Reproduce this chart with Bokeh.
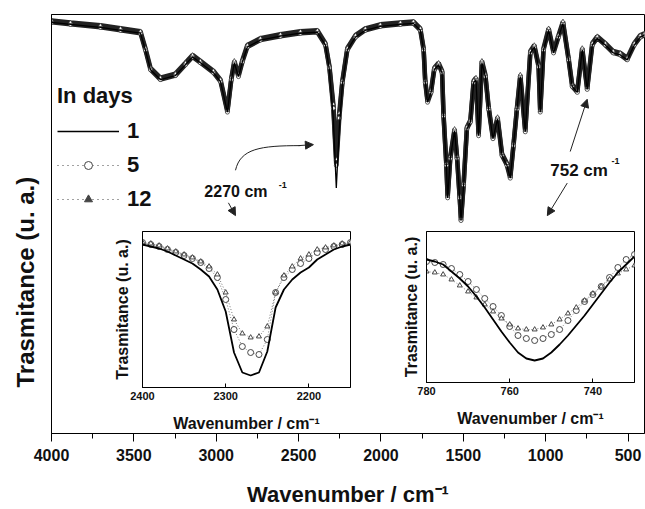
import math
from bokeh.plotting import figure
from bokeh.models import (Range1d, FixedTicker, Legend, LegendItem, Label, Arrow,
                          NormalHead, GridBox, ColumnDataSource, Title)
from bokeh.embed import file_html
from bokeh.resources import INLINE

FONT = "Liberation Sans"

# ---------------- data ----------------
main_wn = [4000,3885,3703,3581,3460,3430,3399,3339,3248,3187,3144,3096,3017,2974,2932,
           2908,2890,2865,2841,2811,2732,2610,2489,2386,2337,2313,2289,2271,2253,2234,
           2204,2155,2095,2004,1882,1803,1761,1741,1731,1717,1696,1676,1650,1629,1620,
           1603,1595,1579,1553,1538,1522,1514,1498,1478,1457,1437,1423,1407,1387,1366,
           1346,1320,1292,1265,1235,1215,1195,1174,1154,1124,1093,1069,1043,1033,1013,
           982,952,922,895,861,839,808,778,748,717,687,638,590,547,505,462,426,400]
main_day1 = [417,415,412,409,406,389,369,359,363,374,382,376,366,357,326,
             359,376,362,377,392,399,403,406,407,394,369,319,249,309,354,
             389,402,409,413,415,416,409,389,356,336,346,369,374,366,322,
             272,239,279,307,279,239,216,252,309,316,356,359,302,376,362,
             329,299,319,282,272,259,292,329,362,306,386,392,372,326,389,
             409,386,402,416,379,352,346,389,349,394,401,394,386,384,379,394,402,404]
main_day5 = [417,415,412,409,406,389,369,359,363,374,382,376,366,357,326,
             359,376,362,377,392,399,403,406,407,394,371,330,272,320,356,
             389,402,409,413,415,416,409,389,356,336,346,369,374,366,322,
             272,239,279,307,279,239,216,252,309,316,356,359,302,376,362,
             329,299,319,282,272,259,292,329,362,306,386,392,372,326,389,
             409,386,402,416,379,352,346,389,349,394,401,394,386,384,379,394,402,404]
main_day12 = [419,417,414,411,408,391,371,361,365,376,384,378,368,359,328,
              361,378,364,379,394,401,405,408,409,396,373,334,278,325,358,
              391,404,411,415,417,418,411,391,358,338,348,371,376,368,324,
              274,241,281,309,281,241,218,254,311,318,358,361,304,378,364,
              331,301,321,284,274,261,294,331,364,308,388,394,374,328,391,
              411,388,404,418,381,354,348,391,351,396,403,396,388,386,381,396,404,406]
main_ticks = [4000,3500,3000,2500,2000,1500,1000,500]
main_minor = [3750,3250,2750,2250,1750,1250,750]

in1_wn = [2400,2390,2380,2370,2360,2350,2340,2330,2320,2310,2300,2290,2280,2270,2260,
          2250,2240,2230,2220,2210,2200,2190,2180,2170,2160,2150]
in1_day1 = [143,141,139,136,132,128,124,118,111,98,76,35,15,12,15,36,80,98,108,115,
            120,128,133,138,141,143]
in1_day5 = [145,143,141,138,135,132,129,125,119,110,88,58,41,35,33,48,95,110,118,124,
            129,135,138,141,143,145]
in1_day12 = [145,144,142,139,136,133,130,126,121,113,95,68,54,50,51,61,95,112,121,129,
             133,138,140,142,144,145]
in1_ticks = [2400,2300,2200]

in2_wn = [780,778,776,774,772,770,768,766,764,762,760,758,756,754,752,750,748,746,744,
          742,740,738,736,734,732,730]
in2_day1 = [123,121,118,111,104,96,86,75,63,51,40,30,24,22,24,30,38,47,57,67,78,89,100,
            110,118,126]
in2_day5 = [121,120,118,114,108,101,93,84,76,67,56,47,44,42,44,48,53,62,72,81,88,96,105,
            115,123,128]
in2_day12 = [111,110,108,103,97,91,85,78,71,64,58,54,53,53,55,58,63,69,75,82,89,96,103,
             109,113,117]
in2_ticks = [780,760,740]

legend_title = "In days"
legend_labels = ["1", "5", "12"]

# annotation anchors (data units of main plot)
curve_arrow = dict(x0=2883, y0=267, cx0=2853, cy0=289, cx1=2732, cy1=292, x1=2489, y1=292)
arrows = [(2501, 292, 2410, 293), (2926, 234, 2883, 221), (851, 286, 748, 339), (869, 254, 990, 221)]

# ---------------- main figure ----------------
W, H = 645, 509
p = figure(width=W, height=H, output_backend="svg", toolbar_location=None,
           x_range=Range1d(4000, 400), y_range=Range1d(0, 425),
           min_border_left=51, min_border_right=1, min_border_top=14, min_border_bottom=70)
p.frame_align = False
p.grid.visible = False
p.outline_line_color = "black"
p.outline_line_width = 1
p.background_fill_color = "white"

p.xaxis.ticker = FixedTicker(ticks=main_ticks, minor_ticks=main_minor)
p.xaxis.major_tick_in = 0
p.xaxis.major_tick_out = 8
p.xaxis.minor_tick_in = 0
p.xaxis.minor_tick_out = 5
p.xaxis.major_label_text_font = FONT
p.xaxis.major_label_text_font_style = "bold"
p.xaxis.major_label_text_font_size = "16px"
p.xaxis.major_label_text_color = "#111111"
p.xaxis.major_label_standoff = 7
p.xaxis.axis_label = "Wavenumber / cm\u207b\u00b9"
p.xaxis.axis_label_text_font = FONT
p.xaxis.axis_label_text_font_style = "bold"
p.xaxis.axis_label_text_font_size = "22px"
p.xaxis.axis_label_text_color = "#111111"
p.xaxis.axis_label_standoff = 18

p.yaxis.ticker = FixedTicker(ticks=[])
p.yaxis.major_tick_out = 0
p.yaxis.minor_tick_out = 0

# y title as a side title, shifted down like the reference
ytitle = Title(text="Trasmitance (u. a.)", align="left", offset=46, vertical_align="top",
               standoff=22, text_font=FONT, text_font_style="bold", text_font_size="24px",
               text_color="#111111")
p.add_layout(ytitle, "left")

# spectra
p.line(main_wn, main_day5, line_color="#222222", line_width=4.5)
p.line(main_wn, main_day12, line_color="#222222", line_width=4.5)
p.scatter(main_wn, main_day5, marker="circle", size=4, line_color="#333333", fill_color="white", line_width=0.8)
p.scatter(main_wn, main_day12, marker="triangle", size=4, line_color="#333333", fill_color="white", line_width=0.8)
p.line(main_wn, main_day1, line_color="black", line_width=1.3)

# legend renderers (kept outside the visible ranges; only their glyphs show in the legend)
off = ColumnDataSource(data=dict(x=[-9000], y=[-9000]))
r1 = p.line("x", "y", source=off, line_color="black", line_width=1.3)
r5l = p.line("x", "y", source=off, line_color="#444444", line_width=1.2, line_dash="1 4")
r5m = p.scatter("x", "y", source=off, marker="circle", size=6, line_color="#444444", fill_color="white")
r12l = p.line("x", "y", source=off, line_color="#444444", line_width=1.2, line_dash="1 4")
r12m = p.scatter("x", "y", source=off, marker="triangle", size=6, line_color="#444444", fill_color="#444444")
legend = Legend(items=[LegendItem(label=legend_labels[0], renderers=[r1]),
                       LegendItem(label=legend_labels[1], renderers=[r5l, r5m]),
                       LegendItem(label=legend_labels[2], renderers=[r12l, r12m])],
                title=legend_title, location=(6, 221))
legend.title_text_font = FONT
legend.title_text_font_style = "bold"
legend.title_text_font_size = "22px"
legend.title_text_color = "#111111"
legend.title_standoff = 9
legend.label_text_font = FONT
legend.label_text_font_style = "bold"
legend.label_text_font_size = "22px"
legend.label_text_color = "#111111"
legend.glyph_width = 62
legend.glyph_height = 20
legend.label_standoff = 8
legend.spacing = 8
legend.padding = 0
legend.margin = 0
legend.border_line_alpha = 0
legend.background_fill_alpha = 0
p.add_layout(legend)

# peak annotations
def add_lab(x, y, t, size):
    p.add_layout(Label(x=x, y=y, text=t, text_font=FONT, text_font_style="bold",
                       text_font_size=size, text_align="left", text_baseline="middle",
                       text_color="#111111"))

add_lab(3072, 245, "2270 cm", "16px")
add_lab(2620, 252, "-1", "9px")
add_lab(972, 267, "752 cm", "17px")
add_lab(600, 276, "-1", "9px")

ca = curve_arrow
p.bezier(x0=[ca["x0"]], y0=[ca["y0"]], x1=[ca["x1"]], y1=[ca["y1"]],
         cx0=[ca["cx0"]], cy0=[ca["cy0"]], cx1=[ca["cx1"]], cy1=[ca["cy1"]],
         line_color="#222222", line_width=1)
for (xs, ys, xe, ye) in arrows:
    p.add_layout(Arrow(x_start=xs, y_start=ys, x_end=xe, y_end=ye, line_color="#222222",
                       line_width=1, end=NormalHead(size=8, fill_color="#222222",
                                                    line_color="#222222")))

# ---------------- insets ----------------
def make_inset(wn, d1, d5, d12, ticks, xr, yr, fw, fh, left_border, ylab_size, ylab_standoff):
    f = figure(width=left_border + fw + 2, height=2 + fh + 52, output_backend="svg",
               toolbar_location=None, x_range=Range1d(*xr), y_range=Range1d(*yr),
               min_border_left=left_border, min_border_right=2, min_border_top=2,
               min_border_bottom=52)
    f.frame_align = False
    f.grid.visible = False
    f.outline_line_color = "black"
    f.background_fill_alpha = 0
    f.border_fill_alpha = 0
    f.xaxis.ticker = FixedTicker(ticks=ticks)
    f.xaxis.major_tick_in = 4
    f.xaxis.major_tick_out = 0
    f.xaxis.minor_tick_out = 0
    f.xaxis.major_label_text_font = FONT
    f.xaxis.major_label_text_font_style = "bold"
    f.xaxis.major_label_text_font_size = "11px"
    f.xaxis.major_label_text_color = "#111111"
    f.xaxis.major_label_standoff = 4
    f.xaxis.axis_label = "Wavenumber / cm\u207b\u00b9"
    f.xaxis.axis_label_text_font = FONT
    f.xaxis.axis_label_text_font_style = "bold"
    f.xaxis.axis_label_text_font_size = "16px"
    f.xaxis.axis_label_text_color = "#111111"
    f.xaxis.axis_label_standoff = 12
    f.yaxis.ticker = FixedTicker(ticks=[])
    f.yaxis.major_tick_out = 0
    f.yaxis.axis_label = "Trasmitance (u. a.)"
    f.yaxis.axis_label_text_font = FONT
    f.yaxis.axis_label_text_font_style = "bold"
    f.yaxis.axis_label_text_font_size = ylab_size
    f.yaxis.axis_label_text_color = "#111111"
    f.yaxis.axis_label_standoff = ylab_standoff
    f.line(wn, d5, line_color="#555555", line_width=0.8, line_dash="1 2")
    f.line(wn, d12, line_color="#555555", line_width=0.8, line_dash="1 2")
    f.scatter(wn, d5, marker="circle", size=6, line_color="#333333", fill_color="white", line_width=0.9)
    f.scatter(wn, d12, marker="triangle", size=5, line_color="#333333", fill_color="white", line_width=0.9)
    f.line(wn, d1, line_color="black", line_width=1.8)
    return f

ins1 = make_inset(in1_wn, in1_day1, in1_day5, in1_day12, in1_ticks, (2400, 2150), (0, 156),
                  208, 156, 36, "16px", 12)
ins2 = make_inset(in2_wn, in2_day1, in2_day5, in2_day12, in2_ticks, (780, 730), (0, 151),
                  208, 151, 32, "16px", 7)
ins1.margin = (229, 0, 0, 106)
ins2.margin = (229, 0, 0, 394)

grid = GridBox(children=[(p, 0, 0), (ins1, 0, 0), (ins2, 0, 0)])

open("out.html", "w").write(file_html(grid, INLINE))
